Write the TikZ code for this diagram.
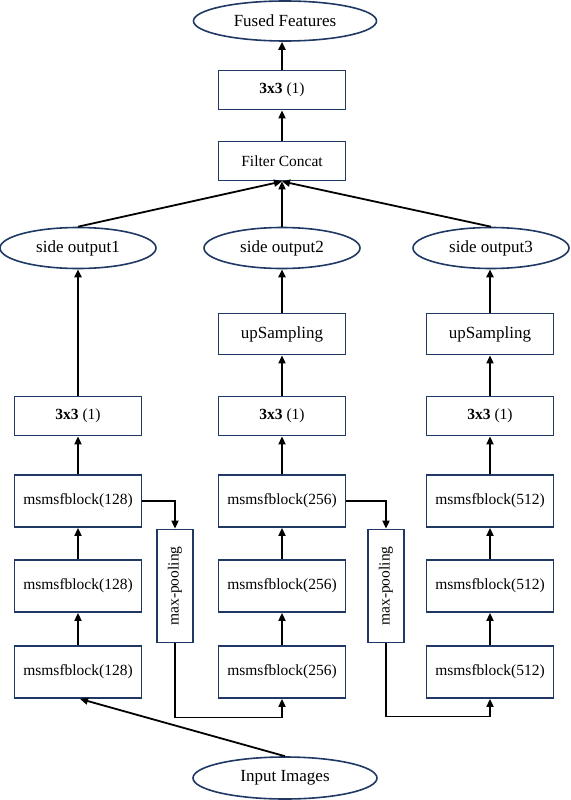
\documentclass[tikz,border=0pt]{standalone}
\usepackage{fontspec}
\setmainfont{Liberation Serif}
\usetikzlibrary{arrows.meta,shapes.geometric}
\definecolor{navy}{HTML}{1F3864}
\begin{document}
\begin{tikzpicture}[x=1pt,y=-1pt,
  box/.style={draw=navy,line width=1.8pt,minimum width=127pt,minimum height=39pt,inner sep=0pt,font=\fontsize{15.5}{17}\selectfont},
  mbox/.style={box,minimum height=52pt},
  pool/.style={draw=navy,line width=1.8pt,minimum width=36pt,minimum height=113pt,inner sep=0pt},
  oval/.style={ellipse,draw=navy,line width=1.6pt,minimum width=156pt,minimum height=41pt,inner sep=0pt,font=\fontsize{17}{19}\selectfont},
  arr/.style={-{Triangle[length=8pt,width=7pt]},line width=1.8pt,black}]
\useasboundingbox (0,0) rectangle (570,800);
% top
\node[oval,minimum width=183pt,minimum height=40pt] (fused) at (285,21) {Fused Features};
\node[box] (top33) at (282,90) {\textbf{3x3} (1)};
\node[box] (concat) at (282,161) {Filter Concat};
% side outputs
\node[oval] (s1) at (78,248) {side output1};
\node[oval] (s2) at (282,248) {side output2};
\node[oval] (s3) at (491,248) {side output3};
% upsampling
\node[box,minimum height=41pt,font=\fontsize{17}{19}\selectfont] (up2) at (282,334) {upSampling};
\node[box,minimum height=41pt,font=\fontsize{17}{19}\selectfont] (up3) at (490,334) {upSampling};
% 3x3 row
\node[box] (c1) at (78,416) {\textbf{3x3} (1)};
\node[box] (c2) at (282,416) {\textbf{3x3} (1)};
\node[box] (c3) at (490,416) {\textbf{3x3} (1)};
% msmsf blocks
\node[mbox] (a1) at (78,501) {msmsfblock(128)};
\node[mbox] (a2) at (78,586) {msmsfblock(128)};
\node[mbox] (a3) at (78,672) {msmsfblock(128)};
\node[mbox] (b1) at (282,501) {msmsfblock(256)};
\node[mbox] (b2) at (282,586) {msmsfblock(256)};
\node[mbox] (b3) at (282,672) {msmsfblock(256)};
\node[mbox] (d1) at (490,501) {msmsfblock(512)};
\node[mbox] (d2) at (490,586) {msmsfblock(512)};
\node[mbox] (d3) at (490,672) {msmsfblock(512)};
% pooling
\node[pool] (p1) at (175,586) {\rotatebox{90}{\fontsize{15.5}{17}\selectfont max-pooling}};
\node[pool] (p2) at (386,586) {\rotatebox{90}{\fontsize{15.5}{17}\selectfont max-pooling}};
% input
\node[oval,minimum width=184pt,minimum height=42pt] (input) at (285,778) {Input Images};
% connectors
\draw[arr] (top33.north) -- (top33.north |- fused.south);
\draw[arr] (concat) -- (top33);
\draw[arr] (s1.north) -- (concat.south);
\draw[arr] (s2.north) -- (concat.south);
\draw[arr] (s3.north) -- (concat.south);
\draw[arr] (up2) -- (s2);
\draw[arr] (up3.north) -- (up3.north |- s3.south);
\draw[arr] (c1) -- (s1);
\draw[arr] (c2) -- (up2);
\draw[arr] (c3) -- (up3);
\draw[arr] (a1) -- (c1);
\draw[arr] (a2) -- (a1);
\draw[arr] (a3) -- (a2);
\draw[arr] (b1) -- (c2);
\draw[arr] (b2) -- (b1);
\draw[arr] (b3) -- (b2);
\draw[arr] (d1) -- (c3);
\draw[arr] (d2) -- (d1);
\draw[arr] (d3) -- (d2);
\draw[arr] (a1.east) -| (p1.north);
\draw[arr] (b1.east) -| (p2.north);
\draw[arr] (p1.south) -- ++(0,74) -| (b3.south);
\draw[arr] (p2.south) -- ++(0,73) -| (d3.south);
\draw[arr] (input.north) -- ([xshift=2pt]a3.south);
\end{tikzpicture}
\end{document}
